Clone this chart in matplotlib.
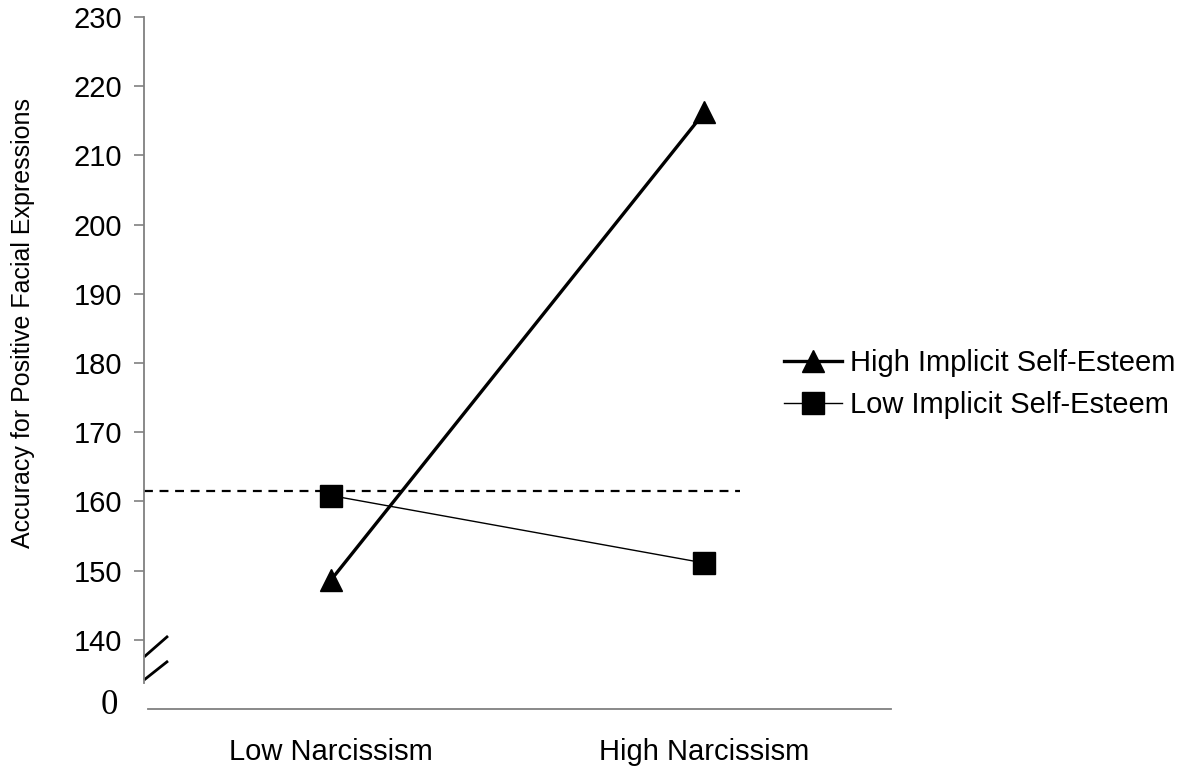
import matplotlib.pyplot as plt

plt.rcParams['font.family'] = ['Liberation Sans', 'DejaVu Sans']

categories = ['Low Narcissism', 'High Narcissism']
high_ise = [148.6, 216.2]
low_ise = [160.85, 151.1]
mean_line = 161.5
yticks = [140, 150, 160, 170, 180, 190, 200, 210, 220, 230]

fig = plt.figure(figsize=(11.88, 7.72), dpi=100)
W, H = 1188, 772
ax = fig.add_axes([144 / W, 1 - 709 / H, (891 - 144) / W, (709 - 17) / H])
ax.set_xlim(-0.5, 1.5)
ax.set_ylim(130, 230)

x = list(range(len(categories)))
ax.plot(x, high_ise, color='black', lw=2.4, marker='^', ms=16,
        label='High Implicit Self-Esteem', zorder=3)
ax.plot(x, low_ise, color='black', lw=1.0, marker='s', ms=15.5,
        label='Low Implicit Self-Esteem', zorder=3)

# dashed reference line
ax.plot([-0.5, 1.096], [mean_line, mean_line], color='black', lw=1.6,
        dashes=(4, 3), zorder=2)

for s in ['top', 'right']:
    ax.spines[s].set_visible(False)
gray = '#808080'
ax.spines['left'].set_color(gray)
ax.spines['bottom'].set_color(gray)
ax.spines['left'].set_linewidth(1.3)
ax.spines['bottom'].set_linewidth(1.3)
ax.spines['left'].set_bounds(133.8, 230)
ax.spines['bottom'].set_bounds(-0.49, 1.5)

ax.set_yticks(yticks)
ax.set_yticklabels([str(v) for v in yticks], fontsize=21)
ax.tick_params(axis='y', length=7, width=1.2, color=gray, pad=9)
ax.set_xticks([])

# axis break marks
def px2data(px, py):
    return -0.5 + (px - 144) / 747 * 2, 130 + (709 - py) / 69.2 * 10

for (a, b) in [((144, 657), (168, 636)), ((144, 680), (168, 661))]:
    p1, p2 = px2data(*a), px2data(*b)
    ax.plot([p1[0], p2[0]], [p1[1], p2[1]], color='black', lw=2,
            clip_on=False, solid_capstyle='butt')

fig.text(118 / W, 1 - 706 / H, '0', family='Liberation Serif', fontsize=25,
         ha='right', va='center')

for i, c in enumerate(categories):
    ax.text(i, 130 - (752 - 709) / 6.92, c, ha='center', va='center', fontsize=21)

fig.text(23 / W, 1 - 323 / H, 'Accuracy for Positive Facial Expressions',
         rotation=90, ha='center', va='center', fontsize=18)

ax.legend(loc='center left', bbox_to_anchor=(784 / W, 1 - 384 / H),
          bbox_transform=fig.transFigure, frameon=False, fontsize=21,
          handlelength=2.0, handletextpad=0.28, labelspacing=0.5,
          borderaxespad=0, borderpad=0)

fig.savefig('out.png', dpi=100)
